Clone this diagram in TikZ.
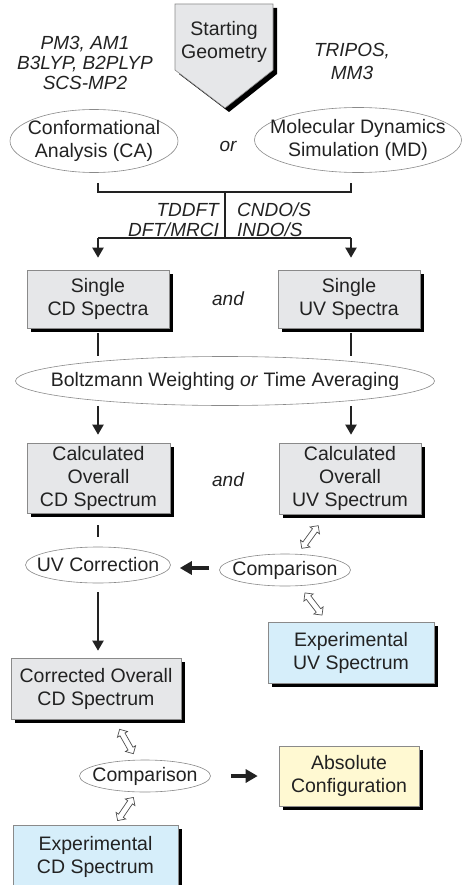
\documentclass[tikz,border=0pt]{standalone}
\usepackage{fontspec}
\setmainfont{Liberation Sans}
\usetikzlibrary{shapes.geometric,shapes.arrows,shadows,arrows.meta,calc}
\definecolor{boxgray}{HTML}{E6E7E9}
\definecolor{boxblue}{HTML}{D6EEFA}
\definecolor{boxyellow}{HTML}{FFF9D2}
\definecolor{edgegray}{HTML}{8A8A8A}
\definecolor{txt}{HTML}{222222}
\begin{document}
\begin{tikzpicture}[x=1pt,y=-1pt,
  every node/.style={text=txt, font=\fontsize{19.5}{23}\selectfont, align=center, inner sep=0pt},
  box/.style={draw=edgegray, line width=0.6pt, fill=boxgray,
    drop shadow={shadow xshift=4pt, shadow yshift=-4pt, fill=black, opacity=1}},
  ell/.style={ellipse, draw=edgegray, line width=0.6pt, fill=white, inner sep=-40pt},
  meth/.style={font=\fontsize{19}{20}\selectfont\itshape},
  ln/.style={draw=txt, line width=2pt},
  arr/.style={draw=txt, line width=2pt, -{Triangle[length=10pt,width=11pt]}},
  bigarrow/.style={draw=txt, line width=4pt, -{Triangle[length=12pt,width=13pt]}},
  hollow/.style={double arrow, draw=txt!80, fill=white, line width=0.7pt, inner xsep=0pt,
    inner ysep=2.5pt, minimum height=28pt, minimum width=11pt, double arrow head extend=3pt,
    double arrow head indent=0pt, sloped}
]
\useasboundingbox (0,0) rectangle (463,885);

% Starting geometry pentagon
\fill[black] (179,8) -- (277,8) -- (277,74) -- (229,112) -- (179,74) -- cycle;
\draw[draw=edgegray, line width=0.6pt, fill=boxgray] (175,4) -- (273,4) -- (273,70) -- (225,108) -- (175,70) -- cycle;
\node (sg) at (224,42) {Starting\\Geometry};

\node[meth] (lm) at (85,63) {PM3, AM1\\B3LYP, B2PLYP\\SCS-MP2};
\node[meth, font=\fontsize{19}{23}\selectfont\itshape] (rm) at (352,61) {TRIPOS,\\MM3};

\node[ell, minimum width=168pt, minimum height=63pt] (ca) at (94,141) {Conformational\\Analysis (CA)};
\node[ell, minimum width=207pt, minimum height=65pt] (md) at (358,140) {Molecular Dynamics\\Simulation (MD)};
\node[meth] (or) at (228,146) {or};

% bracket
\coordinate (b1) at (98,183);
\coordinate (b2) at (351,183);
\coordinate (bm) at (225,192);
\coordinate (bj) at (225,238);
\coordinate (bl) at (98,238);
\coordinate (br) at (351,238);
\draw[ln] (b1) -- (98,192) -- (351,192) -- (b2);
\draw[ln] (bm) -- (bj);
\draw[ln] (bl) -- (br);

\node[meth, anchor=east, align=right] (tdd) at (219,220) {TDDFT\\DFT/MRCI};
\node[meth, anchor=west, align=left] (cndo) at (237,220) {CNDO/S\\INDO/S};

\node[box, minimum width=142pt, minimum height=58pt] (scd) at (98,299) {Single\\CD Spectra};
\node[box, minimum width=142pt, minimum height=58pt] (suv) at (349,299) {Single\\UV Spectra};
\node[meth] (and1) at (228,299) {and};

\draw[arr, shorten >=12pt] (bl) -- (bl |- scd.north);
\draw[arr, shorten >=12pt] (br) -- (br |- suv.north);

\node[ell, minimum width=419pt, minimum height=49pt] (bw) at (225,381) {Boltzmann Weighting \textit{or} Time Averaging};

\draw[ln, shorten <=5pt] (scd.south) -- (scd.south |- bw.north);
\draw[ln, shorten <=5pt] (br |- suv.south) -- (br |- bw.north);

\node[box, minimum width=143pt, minimum height=70pt] (ccd) at (98.5,478) {Calculated\\Overall\\CD Spectrum};
\node[box, minimum width=142pt, minimum height=71pt] (cuv) at (350,478.5) {Calculated\\Overall\\UV Spectrum};
\node[meth] (and2) at (228,480) {and};

\draw[arr, shorten >=8pt] (bl |- bw.south) -- (bl |- ccd.north);
\draw[arr, shorten >=8pt] (br |- bw.south) -- (br |- cuv.north);

\node[ell, minimum width=145pt, minimum height=36pt] (uvc) at (98,565) {UV Correction};
\node[ell, minimum width=131pt, minimum height=32pt] (cmp1) at (285,570) {Comparison};

\draw[ln, shorten <=12pt, shorten >=10pt] (bl |- ccd.south) -- (bl |- uvc.north);
\draw[bigarrow] ($(cmp1.west)+(-10,-2)$) -- ($(uvc.east)+(9,3)$);

\node[box, fill=boxblue, minimum width=166pt, minimum height=61pt] (euv) at (351,652.5) {Experimental\\UV Spectrum};

\coordinate (h1a) at (302,548);
\coordinate (h1b) at (318,526);
\coordinate (h2a) at (305,593);
\coordinate (h2b) at (322,615);
\path (h1a) -- (h1b) node[hollow, midway] (d1) {};
\path (h2a) -- (h2b) node[hollow, midway] (d2) {};

\node[box, minimum width=170pt, minimum height=61pt] (cocd) at (96,688.5) {Corrected Overall\\CD Spectrum};
\draw[arr, shorten <=9pt, shorten >=7pt] (bl |- uvc.south) -- (bl |- cocd.north);

\node[ell, minimum width=131pt, minimum height=32pt] (cmp2) at (145,776) {Comparison};
\node[box, fill=boxyellow, minimum width=140pt, minimum height=60pt] (abs) at (349,776) {Absolute\\Configuration};
\draw[bigarrow, shorten <=20pt, shorten >=21pt] (cmp2.east) -- (abs.west);

\node[box, fill=boxblue, minimum width=165pt, minimum height=64pt] (ecd) at (95.5,857) {Experimental\\CD Spectrum};

\coordinate (h3a) at (120,730);
\coordinate (h3b) at (133,753);
\coordinate (h4a) at (118,820);
\coordinate (h4b) at (133,798);
\path (h3a) -- (h3b) node[hollow, midway] (d3) {};
\path (h4a) -- (h4b) node[hollow, midway] (d4) {};
\end{tikzpicture}
\end{document}
